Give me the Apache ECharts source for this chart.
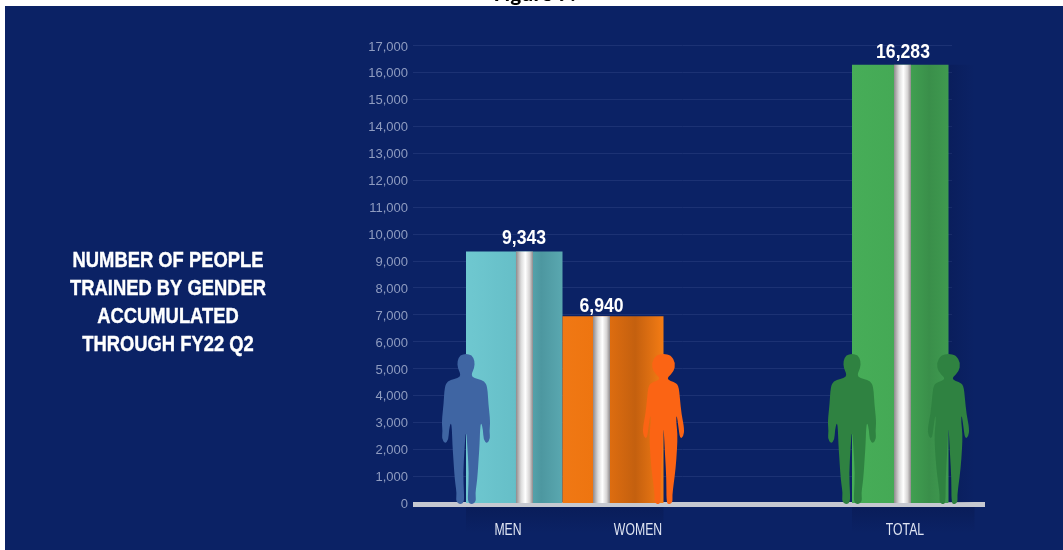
<!DOCTYPE html>
<html><head><meta charset="utf-8">
<style>html,body{margin:0;padding:0;background:#fff}#c{width:1063px;height:550px}</style>
<script src="https://cdn.jsdelivr.net/npm/echarts@6/dist/echarts.min.js"></script></head>
<body><div id="c"></div>
<script>
const categories = ['MEN', 'WOMEN', 'TOTAL'];
const values = [9343, 6940, 16283];
const yTicks = [0, 17000, 1000];
const heading = ['NUMBER OF PEOPLE', 'TRAINED BY GENDER', 'ACCUMULATED', 'THROUGH FY22 Q2'];
const figureTitle = 'Figure 7:';

// layout only: horizontal placement on the hidden 0..572 px x scale
const barLeft = [53, 149.5, 439], barWidth = [96.5, 101, 96.5];
const stripeLeft = [103, 180, 481];
const labelX = [95, 225, 492];
const valueX = [111, 188.5, 490];
const valueGap = [3, 0, 2];
const sideShadow = [0, 0, 26];
const fills = [
  [[0,'#6fc8d0'],[0.5,'#66bfc8'],[0.55,'#5fb3bb'],[0.78,'#4d97a0'],[1,'#5aa8b0']],
  [[0,'#f07814'],[0.3,'#ee7510'],[0.72,'#c4600f'],[1,'#f47c14']],
  [[0,'#47ad58'],[0.5,'#44a955'],[0.8,'#3a8f4a'],[1,'#3f9a50']]
];
const manHalf = [[24,0],[30,1],[33,7],[32.5,14],[30,19],[30,23],[36,25],[43,27],[46,33],[47,50],[49,68],[48,78],[49,85],[45.5,90],[42,86],[41.5,76],[39.5,68],[38.5,75],[38,90],[37,105],[36,120],[35,130],[33.5,140],[34.5,148],[30,151],[26,149],[26,140],[27,120],[25.5,95],[24.5,80]];
const womanHalf = [[20.5,0],[28,1],[33,9],[31,18],[25,23],[25,26],[31,28],[36,31],[37.5,45],[39,60],[42,75],[41,83],[37.5,85],[36,74],[34,60],[33.5,68],[35,80],[34.5,95],[33,115],[31,130],[29.5,142],[30,149],[25,151],[23.5,147],[23.5,125],[22,100],[20.8,76]];
function silhouette(half, axis) {
  const pts = half.concat(half.slice().reverse().map(p => [2 * axis - p[0], p[1]]));
  const mid = (a, b) => [(a[0] + b[0]) / 2, (a[1] + b[1]) / 2];
  const n = pts.length;
  const s = mid(pts[n - 1], pts[0]);
  let d = 'M' + s[0] + ' ' + s[1];
  for (let i = 0; i < n; i++) {
    const m = mid(pts[i], pts[(i + 1) % n]);
    d += 'Q' + pts[i][0] + ' ' + pts[i][1] + ' ' + m[0] + ' ' + m[1];
  }
  return d + 'Z';
}
const MAN = silhouette(manHalf, 24), WOMAN = silhouette(womanHalf, 20.5);
const people = [
  {d: MAN, x: 29, w: 48, c: '#3f65a3'},
  {d: WOMAN, x: 230, w: 41, c: '#fb6414'},
  {d: MAN, x: 415, w: 48, c: '#2f8241'},
  {d: WOMAN, x: 515, w: 41, c: '#2f8241'}
];

const font = '"Liberation Sans",Arial,sans-serif';
const silver = new echarts.graphic.LinearGradient(0,0,1,0,[
  {offset:0,color:'#8f8a8c'},{offset:0.3,color:'#dcdcdc'},{offset:0.55,color:'#ffffff'},{offset:0.8,color:'#d6d4d4'},{offset:1,color:'#8f8a8c'}]);

function renderBar(params, api) {
  const i = params.dataIndex, v = api.value(1);
  const tl = api.coord([barLeft[i], v]), br = api.coord([barLeft[i] + barWidth[i], 0]);
  const sl = api.coord([stripeLeft[i], v]), sr = api.coord([stripeLeft[i] + 17, 0]);
  const grad = new echarts.graphic.LinearGradient(0,0,1,0,fills[i].map(f => ({offset:f[0],color:f[1]})));
  const vx = api.coord([valueX[i], 0])[0], lx = api.coord([labelX[i], 0])[0];
  const kids = [
    {type:'rect', shape:{x:tl[0], y:br[1]+4, width:br[0]-tl[0]+sideShadow[i], height:26},
      style:{fill:new echarts.graphic.LinearGradient(0,0,0,1,[{offset:0,color:'rgba(5,15,60,0.28)'},{offset:1,color:'rgba(5,15,60,0)'}])}},
    {type:'rect', shape:{x:tl[0], y:tl[1], width:br[0]-tl[0], height:br[1]-tl[1]}, style:{fill:grad}},
    {type:'rect', shape:{x:sl[0], y:sl[1], width:sr[0]-sl[0], height:sr[1]-sl[1]}, style:{fill:silver}},
    {type:'text', x:vx, y:tl[1]-valueGap[i], scaleX:0.88, style:{x:0, y:0, text:v.toLocaleString('en-US'), fill:'#fff',
      font:'bold 20px '+font, align:'center', verticalAlign:'bottom'}},
    {type:'text', x:lx, y:br[1]+27, scaleX:0.72, style:{x:0, y:0, text:categories[i], fill:'#dfe4f2',
      font:'17px '+font, align:'center', verticalAlign:'middle'}}
  ];
  if (sideShadow[i]) kids.unshift({type:'rect', shape:{x:br[0], y:tl[1], width:sideShadow[i], height:br[1]-tl[1]},
    style:{fill:new echarts.graphic.LinearGradient(0,0,1,0,[{offset:0,color:'rgba(5,15,60,0.22)'},{offset:1,color:'rgba(5,15,60,0)'}])}});
  return {type:'group', children:kids};
}
function renderPerson(params, api) {
  const p = people[params.dataIndex];
  const a = api.coord([p.x, 0]);
  return {type:'path', shape:{pathData:p.d, layout:'cover', x:a[0], y:a[1]-149, width:p.w, height:150}, style:{fill:p.c}};
}

const chart = echarts.init(document.getElementById('c'), null, {renderer:'canvas'});
chart.setOption({
  animation:false,
  backgroundColor:'#ffffff',
  graphic:[
    {type:'text', z:-2, style:{x:535, y:7, text:figureTitle, fill:'#000', font:'bold 23px Carlito,"Liberation Sans",sans-serif', align:'center', verticalAlign:'bottom'}},
    {type:'rect', z:-1, shape:{x:5,y:6,width:1058,height:544}, style:{fill:'#0b2265'}},
    {type:'text', z:5, x:168, y:303, scaleX:0.835, style:{x:0, y:0, text:heading.join('\n'), fill:'#fff', stroke:'#fff', lineWidth:0.4, font:'bold 22px '+font, lineHeight:28, align:'center', verticalAlign:'middle'}}
  ],
  grid:[
    {left:413, top:45.5, width:572, height:457.5},
    {left:413, top:45.5, width:539, height:457.5}
  ],
  xAxis:[
    {gridIndex:0, type:'value', min:0, max:572, offset:1, axisLabel:{show:false}, axisTick:{show:false}, splitLine:{show:false},
      axisLine:{show:true, onZero:false, lineStyle:{color:'#c6c9d1', width:5, cap:'butt'}}},
    {gridIndex:1, type:'value', min:0, max:539, show:false, splitLine:{show:false}}
  ],
  yAxis:[
    {gridIndex:0, type:'value', min:yTicks[0], max:yTicks[1], interval:yTicks[2], splitLine:{show:false}, axisLine:{show:false}, axisTick:{show:false},
      axisLabel:{color:'#8f9cc0', fontSize:13, fontFamily:font, margin:5, verticalAlign:'top', lineHeight:3, formatter:v=>v.toLocaleString('en-US')}},
    {gridIndex:1, type:'value', min:yTicks[0], max:yTicks[1], interval:yTicks[2], axisLine:{show:false}, axisTick:{show:false}, axisLabel:{show:false},
      splitLine:{show:true, lineStyle:{color:'#1c3274', width:1}}}
  ],
  series:[
    {type:'custom', xAxisIndex:0, yAxisIndex:0, z:3, clip:false, renderItem:renderBar,
      encode:{x:0,y:1}, data:values.map((v,i)=>[barLeft[i],v])},
    {type:'custom', xAxisIndex:0, yAxisIndex:0, z:4, clip:false, renderItem:renderPerson,
      encode:{x:0,y:1}, data:people.map(p=>[p.x,0])}
  ]
});
</script></body></html>
